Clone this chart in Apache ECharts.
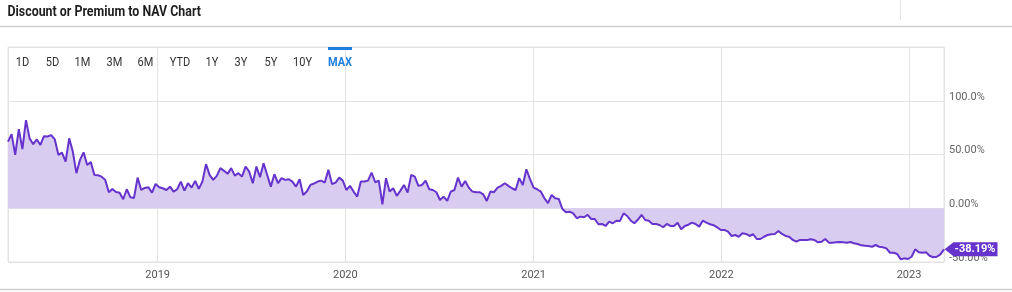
<!DOCTYPE html>
<html>
<head>
<meta charset="utf-8">
<script src="https://cdn.jsdelivr.net/npm/echarts@6/dist/echarts.min.js"></script>
<style>
html,body{margin:0;padding:0;background:#fff;}
#chart{width:1012px;height:292px;}
</style>
</head>
<body>
<div id="chart"></div>
<script>
// ---- data ----
const titleText = 'Discount or Premium to NAV Chart';
const rangeButtons = ['1D','5D','1M','3M','6M','YTD','1Y','3Y','5Y','10Y','MAX'];
const activeButton = 'MAX';
const firstDate = '2018-03-16';   // weekly observations (Fridays)
const lastDate = '2023-03-10';
const yTickLabels = { '-50': '-50.00%', '0': '0.00%', '50': '50.00%', '100': '100.0%', '150': '' };
const premiumValues = [
  62, 69, 49.7, 73.6, 55, 82, 65, 59.6, 64, 59, 67, 66.7, 68, 64, 49.7, 51.8, 43.4, 65, 52.7, 32.6,
  45, 52, 40.3, 42.9, 31, 30.7, 29.4, 26.4, 14.9, 18, 15.2, 14.5, 8.4, 17.7, 10.2, 9.6, 28.5, 17, 18.9, 19.6,
  14.5, 22.6, 19.6,
  18.6, 17, 20.1, 15.5, 17.7, 24.8, 16.4, 23.3, 19.2, 25.4, 18, 24.8, 41, 31, 26.4, 30.1, 37.3, 34.8, 32, 37.3,
  30.4, 32.6, 29.4, 38.8, 34.1, 23.3, 38.8, 28.9, 41.9, 31, 20.1, 31.7, 23.3, 28, 26.4, 27, 24.8, 20.1, 27, 12.4,
  15.5, 21.7, 23, 24.8,
  25.7, 23.9, 35.7, 22.6, 23.9, 28.5, 25.7, 17, 20.8, 15.5, 10.8, 24.8, 24.8, 25.7, 33.2, 24.2, 25.7, 3.7, 28, 15.5,
  18.6, 11.5, 16.4, 21.7, 14.5, 31, 29.4, 20.8, 21.7, 25.7, 17.7, 17, 14.9, 7.7, 10.8, 6.8, 15.5, 17, 28.5, 20.1,
  25.4, 19.2, 15.5, 14.9,
  14.9, 13, 6.8, 15.5, 14.9, 19.2, 20.8, 23.3, 20.8, 18.6, 17, 28, 21.7, 36.3, 27, 19.2, 17.7, 15.5, 9.3, 4.7,
  12.4, 9.3, 8.7, -0.7, -3.7, -3.2, -4.7, -9.3, -7.8, -8.4, -6.2, -10, -10, -14.9, -14.6, -16.5, -12.5, -14, -11.6, -11.8,
  -4.7, -7.2, -11.6,
  -14, -10.5, -6.2, -10.9, -11.6, -14.6, -14.6, -15.6, -17.7, -14.6, -16.5, -16.5, -13.4, -19.6, -16.5, -15.3, -13.4, -14.6, -17.1, -11.6,
  -13.4, -14.9, -15.8, -17.7, -20.2, -20.2, -21.8, -25.8, -24.9, -26.5, -23.3, -23.9, -25.8, -24.2, -28.6, -28.6, -26.5, -24.9, -24.2, -23.9,
  -21.2, -23.9, -25.8, -26.5,
  -29.5, -31.1, -29.5, -29.5, -29.5, -28.9, -29.5, -31.7, -31.1, -28.6, -32, -32, -31.7, -31.4, -31.7, -32, -31.4, -32.6, -33.3, -34.5,
  -34.8, -35.1, -35.8, -34.2, -35.8, -36.3, -37.3, -41.4, -41.4, -42.6, -47.5, -46.6, -47.2, -45.1, -38.2, -41, -41.4, -41, -44.2, -45.6,
  -45.1, -42.9, -38.19
];

// ---- build weekly date table ----
const DAY = 86400000;
const t0 = new Date(firstDate + 'T00:00:00').getTime();
const seriesData = premiumValues.map((v, i) => [t0 + i * 7 * DAY, v]);
seriesData[seriesData.length - 1][0] = new Date(lastDate + 'T00:00:00').getTime();
const lastPoint = seriesData[seriesData.length - 1];

const LINE = '#6633cc';
const FILL = '#d9ccf1';
const GRIDC = '#e3e3e3';

// button positions (layout)
const btnX = [22.5, 52.5, 82.5, 114.5, 145.5, 180, 212, 241, 271, 302.5, 340];

const graphic = [
  { type: 'text', x: 7.5, y: 12, scaleX: 0.885, style: { text: titleText, fill: '#1e1e1e', fontSize: 14, fontWeight: 'bold', fontFamily: 'Roboto', verticalAlign: 'middle', align: 'left' } },
  { type: 'line', shape: { x1: 0, y1: 26.5, x2: 1012, y2: 26.5 }, style: { stroke: '#cfcfcf', lineWidth: 1.5 } },
  { type: 'line', shape: { x1: 900.5, y1: 0, x2: 900.5, y2: 20 }, style: { stroke: '#e6e6e6', lineWidth: 1 } },
  { type: 'line', shape: { x1: 0, y1: 289.5, x2: 1012, y2: 289.5 }, style: { stroke: '#cfcfcf', lineWidth: 1.5 } }
];
rangeButtons.forEach((b, i) => {
  const active = b === activeButton;
  graphic.push({ type: 'text', x: btnX[i], y: 62.5, scaleX: 0.88, style: { text: b, fill: active ? '#1f7fe0' : '#333', fontSize: 12.5, fontWeight: active ? 'bold' : 'normal', fontFamily: 'Roboto', align: 'center', verticalAlign: 'middle' } });
  if (active) graphic.push({ type: 'rect', shape: { x: btnX[i] - 12, y: 47, width: 24, height: 3 }, style: { fill: '#1f7fe0' }, z: 10 });
});

const chart = echarts.init(document.getElementById('chart'), null, { renderer: 'canvas' });
chart.setOption({
  animation: false,
  backgroundColor: '#fff',
  graphic: graphic,
  grid: { left: 8, right: 68, top: 47, bottom: 30, show: true, borderColor: GRIDC, borderWidth: 1, containLabel: false },
  xAxis: {
    type: 'time',
    min: seriesData[0][0],
    max: lastPoint[0],
    splitNumber: 5,
    minInterval: 360 * DAY,
    axisLine: { show: false },
    axisTick: { show: false },
    splitLine: { show: true, lineStyle: { color: GRIDC, width: 1 } },
    axisLabel: { formatter: '{yyyy}', color: '#555', fontSize: 11, fontFamily: 'Roboto', margin: 8, showMinLabel: false, showMaxLabel: false }
  },
  yAxis: {
    type: 'value',
    position: 'right',
    min: -50, max: 150, interval: 50,
    axisLine: { show: false },
    axisTick: { show: false },
    splitLine: { show: true, lineStyle: { color: GRIDC, width: 1 } },
    axisLabel: {
      formatter: v => yTickLabels[String(v)] ?? '',
      color: '#666', fontSize: 11, fontFamily: 'Roboto', margin: 5, verticalAlign: 'bottom', lineHeight: 8
    }
  },
  series: [{
    type: 'line',
    data: seriesData,
    showSymbol: false,
    symbol: 'none',
    lineStyle: { color: LINE, width: 2 },
    itemStyle: { color: LINE },
    areaStyle: { color: FILL, opacity: 1, origin: 'auto' },
    z: 3,
    markPoint: {
      symbol: 'path://M0,7 L9,0 L53,0 L53,14 L9,14 Z',
      symbolSize: [53, 14],
      symbolOffset: [27, 0],
      itemStyle: { color: LINE },
      label: { show: true, position: 'inside', offset: [4, 0], color: '#fff', fontSize: 11, fontWeight: 'bold', fontFamily: 'Roboto', formatter: p => p.value.toFixed(2) + '%' },
      data: [{ coord: lastPoint, value: lastPoint[1] }],
      z: 10
    }
  }]
});
</script>
</body>
</html>
